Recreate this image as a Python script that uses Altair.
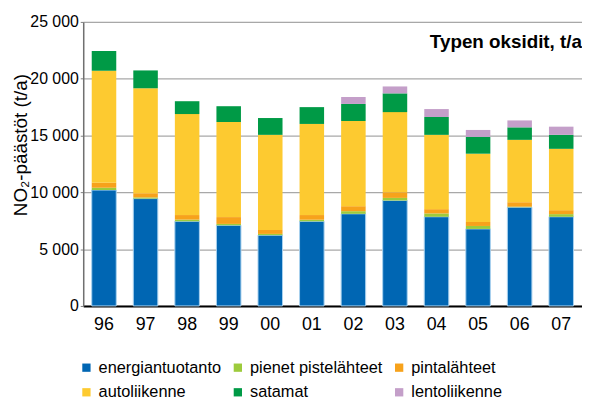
import altair as alt
import pandas as pd

years = ["96", "97", "98", "99", "00", "01", "02", "03", "04", "05", "06", "07"]
series = ["energiantuotanto", "pienet pistelähteet", "pintalähteet",
          "autoliikenne", "satamat", "lentoliikenne"]
colors = ["#0066b3", "#9dcb3c", "#f7a21b", "#fdca30", "#009a46", "#c49fc9"]

energiantuotanto = [10200, 9450, 7450, 7100, 6230, 7450, 8110, 9280, 7850, 6780, 8690, 7850]
pienet = [200, 100, 150, 120, 110, 140, 230, 230, 290, 260, 50, 230]
pinta = [450, 370, 400, 600, 350, 410, 440, 490, 380, 350, 390, 350]
auto = [9850, 9240, 8890, 8370, 8370, 8020, 7500, 7060, 6540, 6010, 5490, 5400]
satamat = [1750, 1570, 1130, 1390, 1480, 1480, 1500, 1650, 1570, 1480, 1100, 1230]
lento = [0, 0, 0, 0, 0, 0, 610, 610, 700, 610, 610, 720]

values = [energiantuotanto, pienet, pinta, auto, satamat, lento]
rows = []
for si, (name, vals) in enumerate(zip(series, values)):
    for y, v in zip(years, vals):
        rows.append({"year": y, "series": name, "value": v, "ord": si})
df = pd.DataFrame(rows)

# legend fills column by column: reorder so rows read like the reference
legend_order = [0, 3, 1, 4, 2, 5]
dom = [series[i] for i in legend_order]
rng = [colors[i] for i in legend_order]

FONT = "Liberation Sans"

chart = alt.Chart(df).mark_bar(strokeWidth=1).encode(
    x=alt.X("year:N", sort=years,
            scale=alt.Scale(paddingInner=0.41, paddingOuter=0.205),
            axis=alt.Axis(title=None, labelAngle=0, labelFontSize=18, labelPadding=10,
                          ticks=False, domainColor="#000000", domainWidth=2,
                          labelColor="#000000", labelFont=FONT)),
    y=alt.Y("value:Q", stack="zero",
            scale=alt.Scale(domain=[0, 25000], nice=False),
            axis=alt.Axis(title="NO₂-päästöt (t/a)", values=[0, 5000, 10000, 15000, 20000, 25000],
                          labelExpr="replace(format(datum.value, ','), ',', ' ')",
                          labelFontSize=16, labelColor="#000000", labelFont=FONT,
                          titleFontSize=19, titleFont=FONT, titleFontWeight="normal",
                          titleColor="#000000", titleX=-57, titleY=124,
                          titleAlign="center", titleBaseline="alphabetic", titleAngle=270,
                          tickSize=3, tickColor="#808080", labelPadding=2,
                          domainColor="#707070", domainWidth=1.5,
                          gridColor="#a8a8a8", gridWidth=1.3)),
    color=alt.Color("series:N",
                    scale=alt.Scale(domain=dom, range=rng),
                    legend=alt.Legend(title=None, orient="none", legendX=-5, legendY=341,
                                      columns=3, columnPadding=8, rowPadding=8,
                                      symbolType="square", symbolSize=70,
                                      symbolStrokeWidth=0, labelFontSize=16.5,
                                      labelFont=FONT, labelColor="#000000",
                                      labelOffset=4)),
    order=alt.Order("ord:Q", sort="ascending"),
    stroke=alt.condition(alt.datum.series == "energiantuotanto",
                         alt.value("#a9d1ef"), alt.value("transparent")),
).properties(
    width=504,
    height=287,
    title=alt.TitleParams("Typen oksidit, t/a", anchor="end", fontSize=19,
                          fontWeight="bold", font=FONT, color="#000000",
                          dy=42, dx=0),
    autosize=alt.AutoSizeParams(type="none"),
    padding={"left": 76, "top": 12, "right": 0, "bottom": 95},
).configure_view(stroke=None).configure(background="#ffffff")

chart.save("out.html", embed_options={"renderer": "svg", "actions": False})
